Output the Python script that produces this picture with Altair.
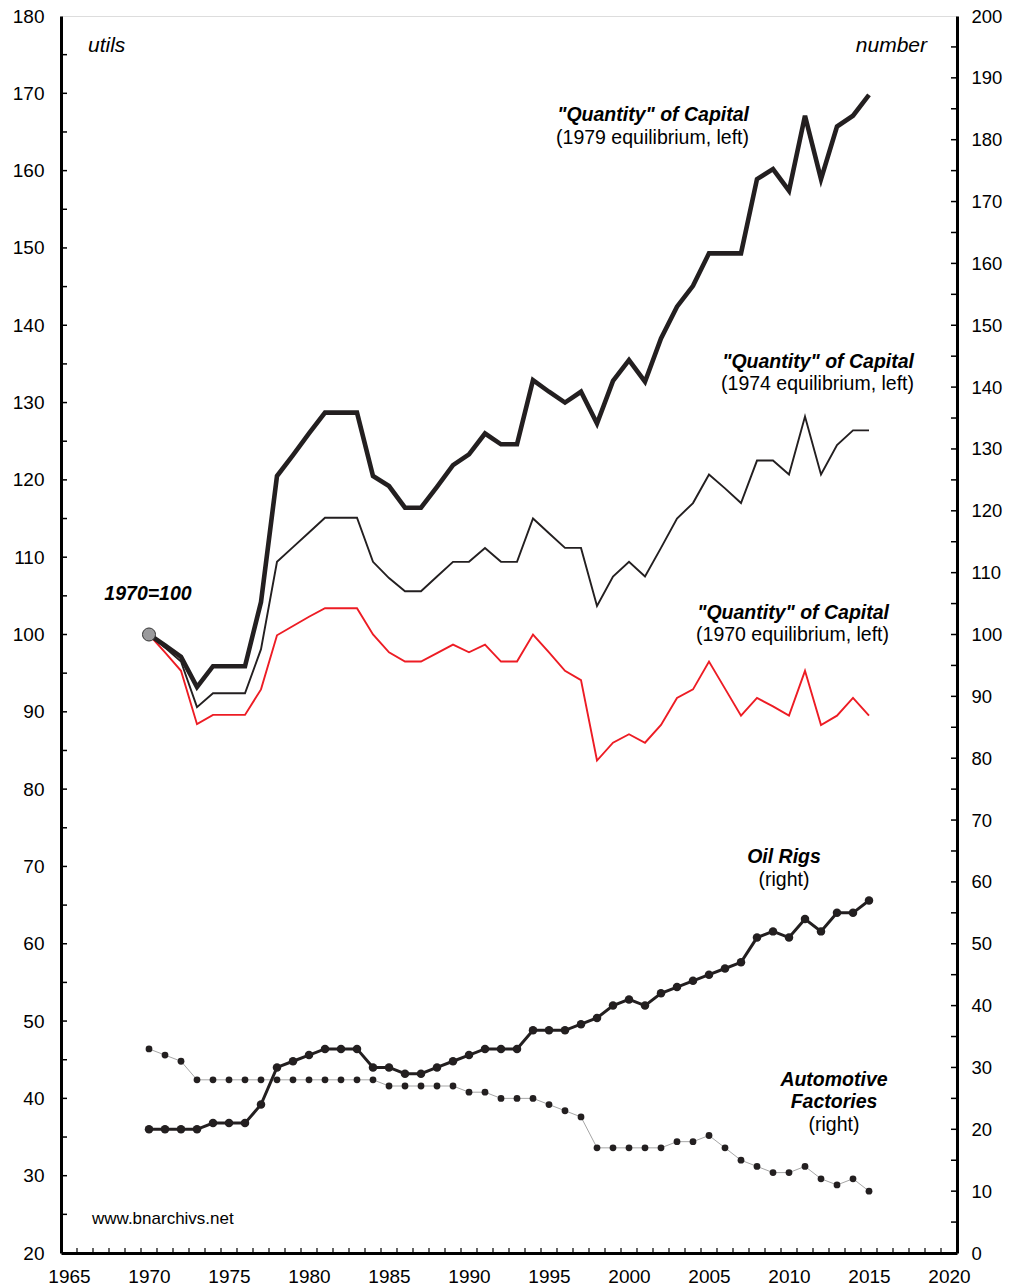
import altair as alt
import pandas as pd

# ---------------- data ----------------
years = list(range(1970, 2016))

cap_1979 = [100.0, 98.6, 97.1, 93.2, 95.9, 95.9, 95.9, 104.2, 120.5, 123.2,
            126.0, 128.7, 128.7, 128.7, 120.5, 119.2, 116.4, 116.4, 119.1, 121.9,
            123.3, 126.0, 124.6, 124.6, 132.9, 131.4, 130.0, 131.4, 127.3, 132.8,
            135.5, 132.7, 138.3, 142.4, 145.1, 149.3, 149.3, 149.3, 158.9, 160.2,
            157.4, 167.1, 158.9, 165.7, 167.1, 169.8]

cap_1974 = [100.0, 98.3, 96.5, 90.6, 92.4, 92.4, 92.4, 98.1, 109.4, 111.3,
            113.2, 115.1, 115.1, 115.1, 109.4, 107.3, 105.6, 105.6, 107.5, 109.4,
            109.4, 111.2, 109.4, 109.4, 115.0, 113.1, 111.2, 111.2, 103.7, 107.5,
            109.4, 107.5, 111.2, 115.0, 117.0, 120.7, 118.9, 117.0, 122.5, 122.5,
            120.7, 128.2, 120.7, 124.5, 126.4, 126.4]

cap_1970 = [100.0, 97.7, 95.3, 88.4, 89.6, 89.6, 89.6, 92.9, 99.9, 101.1,
            102.3, 103.4, 103.4, 103.4, 100.0, 97.7, 96.5, 96.5, 97.6, 98.7,
            97.7, 98.7, 96.5, 96.5, 100.0, 97.7, 95.3, 94.1, 83.7, 86.0,
            87.1, 86.0, 88.3, 91.8, 92.9, 96.5, 93.0, 89.5, 91.8, 90.7,
            89.5, 95.3, 88.3, 89.5, 91.8, 89.5]

oil_rigs = [20, 20, 20, 20, 21, 21, 21, 24, 30, 31,
            32, 33, 33, 33, 30, 30, 29, 29, 30, 31,
            32, 33, 33, 33, 36, 36, 36, 37, 38, 40,
            41, 40, 42, 43, 44, 45, 46, 47, 51, 52,
            51, 54, 52, 55, 55, 57]

auto_factories = [33, 32, 31, 28, 28, 28, 28, 28, 28, 28,
                  28, 28, 28, 28, 28, 27, 27, 27, 27, 27,
                  26, 26, 25, 25, 25, 24, 23, 22, 17, 17,
                  17, 17, 17, 18, 18, 19, 17, 15, 14, 13,
                  13, 14, 12, 11, 12, 10]

base_year = [1970]
base_value = [100]

x_label_years = list(range(1965, 2021, 5))
x_tick_years = [y + 0.5 for y in range(1965, 2020)]
left_labels = list(range(20, 181, 10))
left_ticks = list(range(25, 180, 5))
right_labels = list(range(0, 201, 10))
right_ticks = list(range(5, 200, 5))

# ---------------- layout ----------------
W, H = 896, 1237
OX, OY = 61, 16  # plot origin on the page
FONT = "Liberation Sans"

df = pd.DataFrame({"year": years, "c79": cap_1979, "c74": cap_1974,
                   "c70": cap_1970, "oil": oil_rigs, "auto": auto_factories})
base_df = pd.DataFrame({"year": base_year, "v": base_value})

x_scale = alt.Scale(domain=[1964.5, 2020.5], nice=False, zero=False)
yl_scale = alt.Scale(domain=[20, 180], nice=False, zero=False)
yr_scale = alt.Scale(domain=[0, 200], nice=False, zero=False)

x_axis = alt.Axis(values=x_label_years, format="d", title=None, ticks=False,
                  labelPadding=14, domainWidth=3, domainColor="black", grid=False,
                  labelFontSize=19, labelFont=FONT, labelColor="black")
yl_axis = alt.Axis(values=left_labels, format="d", title=None, ticks=False,
                   labelPadding=17, domainWidth=3, domainColor="black", grid=False,
                   labelFontSize=19, labelFont=FONT, labelColor="black", orient="left")
yr_axis = alt.Axis(values=right_labels, format="d", title=None, ticks=False,
                   labelPadding=14, domainWidth=3, domainColor="black", grid=False,
                   labelFontSize=18.5, labelFont=FONT, labelColor="black", orient="right",
                   labelAlign="left")


def X(field="year"):
    return alt.X(f"{field}:Q", scale=x_scale, axis=x_axis)


def YL(field):
    return alt.Y(f"{field}:Q", scale=yl_scale, axis=yl_axis)


def YR(field):
    return alt.Y(f"{field}:Q", scale=yr_scale, axis=yr_axis)


base = alt.Chart(df)

line79 = base.mark_line(color="#231f20", strokeWidth=4.6, strokeJoin="miter").encode(x=X(), y=YL("c79"))
line74 = base.mark_line(color="#231f20", strokeWidth=1.9, strokeJoin="miter").encode(x=X(), y=YL("c74"))
line70 = base.mark_line(color="#ed1c24", strokeWidth=1.9, strokeJoin="miter").encode(x=X(), y=YL("c70"))
base_pt = alt.Chart(base_df).mark_point(filled=True, shape="circle", size=170, fill="#9a9a9c",
                                        stroke="#333333", strokeWidth=1, opacity=1).encode(
    x=X(), y=YL("v"))

lt_df = pd.DataFrame({"v": left_ticks})
left_tick_marks = alt.Chart(lt_df).mark_rule(color="black", strokeWidth=1.5).encode(
    y=YL("v"), x=alt.value(0), x2=alt.value(6))

xt_df = pd.DataFrame({"year": x_tick_years})
x_tick_marks = alt.Chart(xt_df).mark_rule(color="black", strokeWidth=1.2).encode(
    x=X(), y=alt.value(H), y2=alt.value(H - 5))


def label(text, px, py, bold=True, italic=True, align="left", size=19.5):
    return alt.Chart(pd.DataFrame({"t": [text]})).mark_text(
        font=FONT, fontSize=size, fontWeight="bold" if bold else "normal",
        fontStyle="italic" if italic else "normal", align=align, baseline="middle",
        color="black").encode(text="t:N", x=alt.value(px - OX), y=alt.value(py - OY))


labels = [
    label("utils", 88, 46, bold=False, italic=True, size=21),
    label("number", 927, 46, bold=False, italic=True, align="right", size=21),
    label('"Quantity" of Capital', 749, 115, align="right"),
    label("(1979 equilibrium, left)", 749, 138, bold=False, italic=False, align="right"),
    label('"Quantity" of Capital', 914, 362, align="right"),
    label("(1974 equilibrium, left)", 914, 384, bold=False, italic=False, align="right"),
    label('"Quantity" of Capital', 889, 613, align="right"),
    label("(1970 equilibrium, left)", 889, 635, bold=False, italic=False, align="right"),
    label("1970=100", 148, 594, align="center"),
    label("Oil Rigs", 784, 857, align="center"),
    label("(right)", 784, 880, bold=False, italic=False, align="center"),
    label("Automotive", 834, 1080, align="center"),
    label("Factories", 834, 1102, align="center"),
    label("(right)", 834, 1125, bold=False, italic=False, align="center"),
    label("www.bnarchivs.net", 92, 1219, bold=False, italic=False, size=17),
]

left_layer = alt.layer(x_tick_marks, left_tick_marks, line70, line74, line79, base_pt, *labels)

oil_line = base.mark_line(color="#231f20", strokeWidth=3).encode(x=X(), y=YR("oil"))
oil_pts = base.mark_point(filled=True, shape="circle", size=72, color="#231f20", opacity=1).encode(
    x=X(), y=YR("oil"))
auto_line = base.mark_line(color="#a6a6a6", strokeWidth=1).encode(x=X(), y=YR("auto"))
auto_pts = base.mark_point(filled=True, shape="circle", size=46, color="#231f20", opacity=1).encode(
    x=X(), y=YR("auto"))

rt_df = pd.DataFrame({"v": right_ticks})
right_tick_marks = alt.Chart(rt_df).mark_rule(color="black", strokeWidth=1.5).encode(
    y=YR("v"), x=alt.value(W), x2=alt.value(W - 6))

right_layer = alt.layer(right_tick_marks, auto_line, auto_pts, oil_line, oil_pts)

chart = alt.layer(left_layer, right_layer).resolve_scale(y="independent").properties(
    width=W, height=H,
    autosize=alt.AutoSizeParams(type="none"),
    padding={"left": OX - 8, "top": OY - 8, "right": 46, "bottom": 32},
).configure_view(stroke="black", strokeWidth=1.5).configure(background="white")

chart.save("out.html", embed_options={"renderer": "svg", "actions": False})
